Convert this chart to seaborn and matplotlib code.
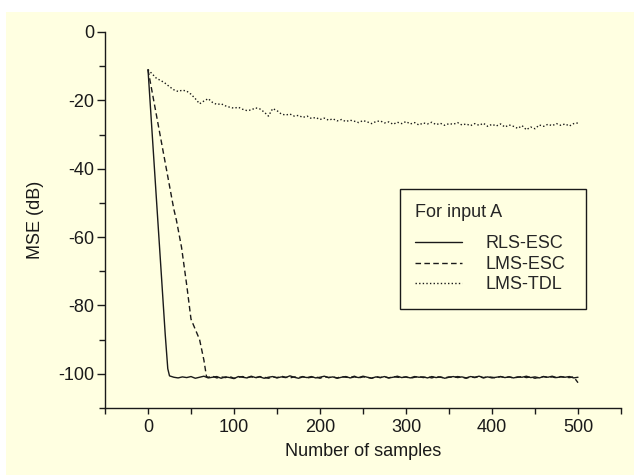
import matplotlib
matplotlib.use("Agg")
import matplotlib.pyplot as plt
import seaborn as sns
import pandas as pd
from matplotlib.patches import Rectangle
from matplotlib.ticker import MultipleLocator

# ---------------- data ----------------
series_names = ["RLS-ESC", "LMS-ESC", "LMS-TDL"]
legend_title = "For input A"
x_label = "Number of samples"
y_label = "MSE (dB)"

rls_x = [0, 5, 10, 15, 20, 23] + list(range(25, 501, 5))
rls_y = [-11.0, -30.3, -49.7, -69.0, -88.4, -98.5,
         -100.6, -101.0, -101.2, -100.9, -101.1, -100.8, -101.3, -101.0, -100.7, -101.2,
         -101.0, -100.8, -101.3, -100.9, -101.1, -101.4, -100.8, -101.0, -101.2, -100.7,
         -101.1, -100.9, -101.3, -101.0, -100.8, -101.2, -100.9, -101.1, -100.6, -101.0,
         -101.3, -100.9, -101.1, -100.8, -101.2, -101.0, -100.7, -101.1, -100.9, -101.3,
         -101.0, -100.8, -101.2, -100.9, -101.1, -100.7, -101.0, -101.3, -100.9, -101.1,
         -100.8, -101.2, -101.0, -100.7, -101.1, -100.9, -101.2, -100.8, -101.0, -100.9,
         -101.2, -100.8, -101.1, -100.9, -101.3, -101.0, -100.8, -101.1, -100.9, -101.2,
         -100.8, -101.0, -100.7, -101.1, -100.9, -101.2, -101.0, -100.8, -101.1, -100.9,
         -101.2, -100.9, -101.0, -100.7, -101.1, -100.9, -101.2, -100.8, -101.0, -100.7,
         -101.1, -100.9, -101.0, -100.8, -101.2, -101.0]

lms_esc_x = [0, 5, 10, 15, 20, 25, 30, 33, 39, 45, 50, 55, 60, 65, 68] + list(range(70, 501, 5))
lms_esc_y = [-11.0, -17.8, -24.6, -31.4, -38.2, -45.0, -51.8, -55.0, -63.0, -74.0,
             -84.0, -87.0, -90.0, -96.0, -100.8,
             -101.0, -100.7, -101.2, -100.9, -101.1, -100.8, -101.3, -101.0, -100.8, -101.1,
             -100.9, -101.2, -100.8, -101.0, -101.3, -100.9, -101.1, -100.7, -101.0, -101.2,
             -100.9, -101.1, -100.8, -101.2, -101.0, -100.9, -101.3, -100.8, -101.1, -100.9,
             -101.2, -100.8, -101.0, -101.1, -100.7, -101.2, -100.9, -101.0, -101.3, -100.8,
             -101.1, -100.9, -101.2, -100.8, -101.0, -101.1, -100.9, -101.3, -101.0, -100.8,
             -101.1, -100.9, -101.2, -100.8, -101.0, -101.2, -100.9, -101.1, -100.8, -101.0,
             -101.3, -100.9, -101.1, -100.8, -101.2, -100.9, -101.0, -101.2, -100.8, -101.1,
             -100.9, -101.2, -101.0, -100.8, -101.1, -100.9, -101.3, -101.0, -100.8, -101.1,
             -100.9, -101.2, -100.8, -101.0, -101.1, -100.9, -102.6]

lms_tdl_x = list(range(0, 501, 5))
lms_tdl_y = [-11.0, -12.3, -13.6, -14.2, -15.0, -16.0, -16.9, -17.4, -17.0, -17.3,
             -18.2, -19.5, -21.0, -20.2, -19.5, -20.6, -21.2, -21.0, -21.6, -22.0,
             -22.3, -22.0, -22.6, -23.0, -22.8, -22.2, -22.5, -23.4, -24.6, -22.4,
             -23.0, -24.0, -24.3, -24.0, -24.6, -24.4, -25.0, -24.6, -25.3, -25.0,
             -25.6, -25.2, -25.8, -25.4, -26.0, -25.6, -26.2, -25.8, -26.1, -26.5,
             -25.9, -26.3, -26.8, -26.2, -26.0, -26.6, -26.3, -27.0, -26.4, -26.8,
             -26.2, -26.9, -26.5, -27.2, -26.6, -26.9, -26.4, -27.1, -26.7, -27.3,
             -26.8, -27.0, -26.5, -27.2, -26.9, -27.4, -26.8, -27.3, -26.7, -27.6,
             -27.0, -27.5, -26.9, -27.8, -27.2, -27.6, -28.2, -27.4, -28.6, -27.8,
             -28.3, -27.2, -27.6, -27.0, -27.4, -26.8, -27.3, -26.9, -27.5, -26.8,
             -26.6]

x_major_ticks = [0, 100, 200, 300, 400, 500]
y_major_ticks = [-100, -80, -60, -40, -20, 0]

# ---------------- styling ----------------
sns.set_theme(style="ticks")
plt.rcParams["font.family"] = ["Liberation Sans", "DejaVu Sans"]
plt.rcParams["axes.unicode_minus"] = False
bg = "#FFFFE1"
ink = "#1a1a1a"

W, H = 634, 475
fig = plt.figure(figsize=(W / 100, H / 100), dpi=100, facecolor="white")
fig.patches.append(Rectangle((6 / W, 0), 1 - 6 / W, (H - 12) / H,
                             transform=fig.transFigure, facecolor=bg,
                             edgecolor="none", zorder=-10))

ax = fig.add_axes([105 / W, (H - 408) / H, (621 - 105) / W, (408 - 32) / H])
ax.set_facecolor("none")

frames = [
    pd.DataFrame({"x": rls_x, "y": rls_y, "s": series_names[0]}),
    pd.DataFrame({"x": lms_esc_x, "y": lms_esc_y, "s": series_names[1]}),
    pd.DataFrame({"x": lms_tdl_x, "y": lms_tdl_y, "s": series_names[2]}),
]
styles = [dict(linestyle="-"),
          dict(dashes=(4.0, 2.4)),
          dict(dashes=(1.0, 1.6))]
for df, st, name in zip(frames, styles, series_names):
    sns.lineplot(data=df, x="x", y="y", ax=ax, color=ink, linewidth=1.0,
                 label=name, estimator=None, sort=False, **st)

ax.set_xlim(-50, 550)
ax.set_ylim(-110, 0)
ax.set_xticks(x_major_ticks)
ax.set_yticks(y_major_ticks)
ax.xaxis.set_minor_locator(MultipleLocator(50))
ax.yaxis.set_minor_locator(MultipleLocator(10))
ax.tick_params(axis="both", which="major", labelsize=13, colors=ink, width=1.0)
ax.tick_params(axis="y", which="major", length=6, pad=2)
ax.tick_params(axis="y", which="minor", length=4, width=1.0, color=ink)
ax.tick_params(axis="x", which="major", length=4, pad=4)
ax.tick_params(axis="x", which="minor", length=4, width=1.0, color=ink)
for s in ["top", "right"]:
    ax.spines[s].set_visible(False)
for s in ["left", "bottom"]:
    ax.spines[s].set_color(ink)
    ax.spines[s].set_linewidth(1.0)

ax.set_xlabel(x_label, fontsize=13, color=ink, labelpad=5)
ax.set_ylabel(y_label, fontsize=13, color=ink, labelpad=10)

x0 = (400 - 105) / 516
y1 = (408 - 189) / 376
w = (586 - 400) / 516
h = (306 - 189) / 376
leg = ax.legend(title=legend_title, loc="upper left",
                bbox_to_anchor=(x0, y1 - h, w, h), mode="expand",
                fontsize=13, title_fontsize=13, frameon=True, fancybox=False,
                framealpha=1, facecolor=bg, edgecolor=ink,
                handlelength=2.6, handletextpad=1.3, labelspacing=0.2,
                borderpad=0.85, borderaxespad=0)
leg._legend_box.align = "left"
leg._legend_box.sep = 10
leg.get_frame().set_linewidth(1.0)

fig.savefig("out.png", dpi=100, facecolor="white")
